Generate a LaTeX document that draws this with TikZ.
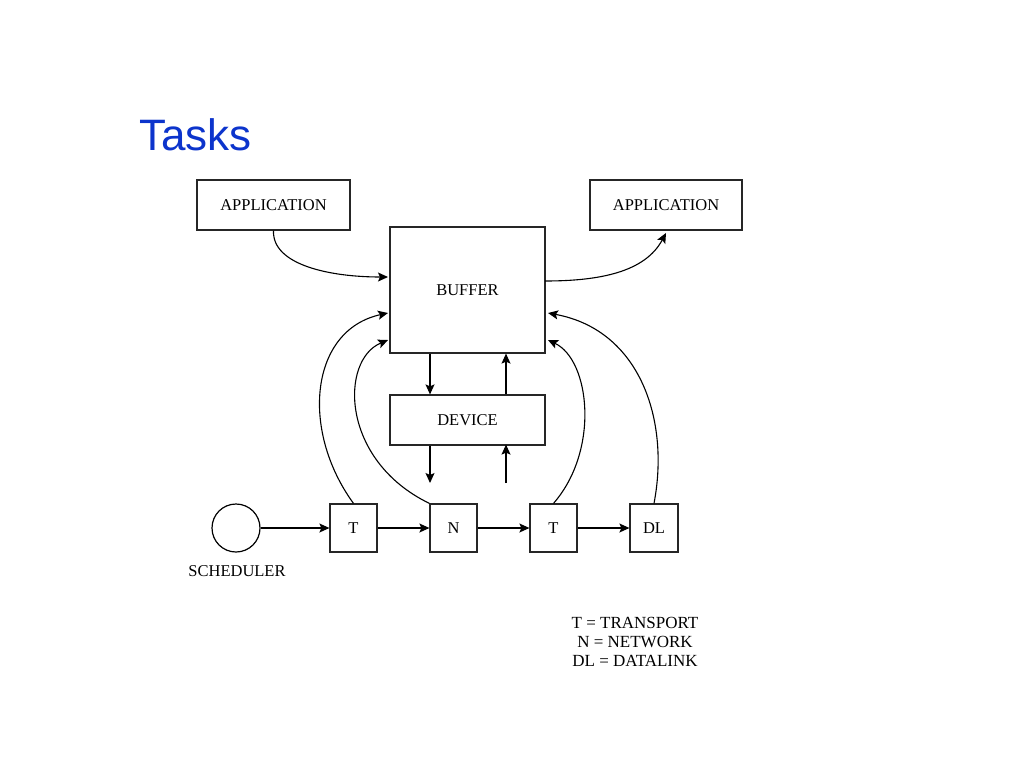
\documentclass[tikz,border=0pt]{standalone}
\usepackage{fontspec}
\setmainfont{Liberation Serif}
\newfontfamily\titlefont{Liberation Sans}
\usetikzlibrary{arrows.meta}
\definecolor{titleblue}{RGB}{12,52,204}
\begin{document}
\begin{tikzpicture}[x=1pt,y=-1pt,
  box/.style={draw=black!85,line width=1.2pt,inner sep=0pt,font=\fontsize{16.5}{18}\selectfont},
  conn/.style={draw=black,line width=1.1pt,-{Stealth[length=10pt,width=9pt,inset=2pt]}},
  lbl/.style={font=\fontsize{16.5}{18}\selectfont}]
\useasboundingbox (0,0) rectangle (1024,768);
\node[anchor=base west,font=\titlefont\fontsize{44}{50}\selectfont,text=titleblue,inner sep=0pt] (title) at (139,150) {Tasks};
% boxes
\node[box,minimum width=153pt,minimum height=50pt] (appL) at (273.5,205) {APPLICATION};
\node[box,minimum width=152pt,minimum height=50pt] (appR) at (666,205) {APPLICATION};
\node[box,minimum width=155pt,minimum height=126pt] (buf) at (467.5,290) {BUFFER};
\node[box,minimum width=155pt,minimum height=50pt] (dev) at (467.5,420) {DEVICE};
\node[draw=black,line width=1.2pt,circle,minimum size=48pt,inner sep=0pt] (sched) at (236,528) {};
\node[lbl] (schedl) at (237,571) {SCHEDULER};
\node[box,minimum width=47pt,minimum height=48pt] (t1) at (353.5,528) {T};
\node[box,minimum width=47pt,minimum height=48pt] (n) at (453.5,528) {N};
\node[box,minimum width=47pt,minimum height=48pt] (t2) at (553.5,528) {T};
\node[box,minimum width=48pt,minimum height=48pt] (dl) at (654,528) {DL};
% chain
\draw[conn] (sched.east) -- (t1.west);
\draw[conn] (t1.east) -- (n.west);
\draw[conn] (n.east) -- (t2.west);
\draw[conn] (t2.east) -- (dl.west);
% buffer/device
\coordinate (d1) at (430,483);
\coordinate (d2) at (506,483);
\draw[conn] (buf.south -| d1) -- (dev.north -| d1);
\draw[conn] (dev.north -| d2) -- (buf.south -| d2);
\draw[conn] (dev.south -| d1) -- (d1);
\draw[conn] (d2) -- ([yshift=1pt]dev.south -| d2);
% application curves
\coordinate (b1) at (388,277);
\coordinate (b2) at (545,281);
\coordinate (a2) at (666,233);
\draw[conn] (appL.south) .. controls (272,265) and (330,277) .. (b1);
\draw[conn] (b2) .. controls (600,281) and (645,272) .. (a2);
% tasks to buffer
\coordinate (bl1) at (388,313);
\coordinate (bl2) at (388,340);
\coordinate (br1) at (548,313);
\coordinate (br2) at (548,340);
\draw[conn] (t1.north) .. controls (300,430) and (310,330) .. (bl1);
\draw[conn] (n.north west) .. controls (340,460) and (340,360) .. (bl2);
\draw[conn] (t2.north) .. controls (600,450) and (590,360) .. (br2);
\draw[conn] (dl.north) .. controls (670,420) and (640,330) .. (br1);
% legend
\node[lbl,align=center,font=\fontsize{17}{19}\selectfont] (legend) at (635,642) {T = TRANSPORT\\N = NETWORK\\DL = DATALINK};
\end{tikzpicture}
\end{document}
